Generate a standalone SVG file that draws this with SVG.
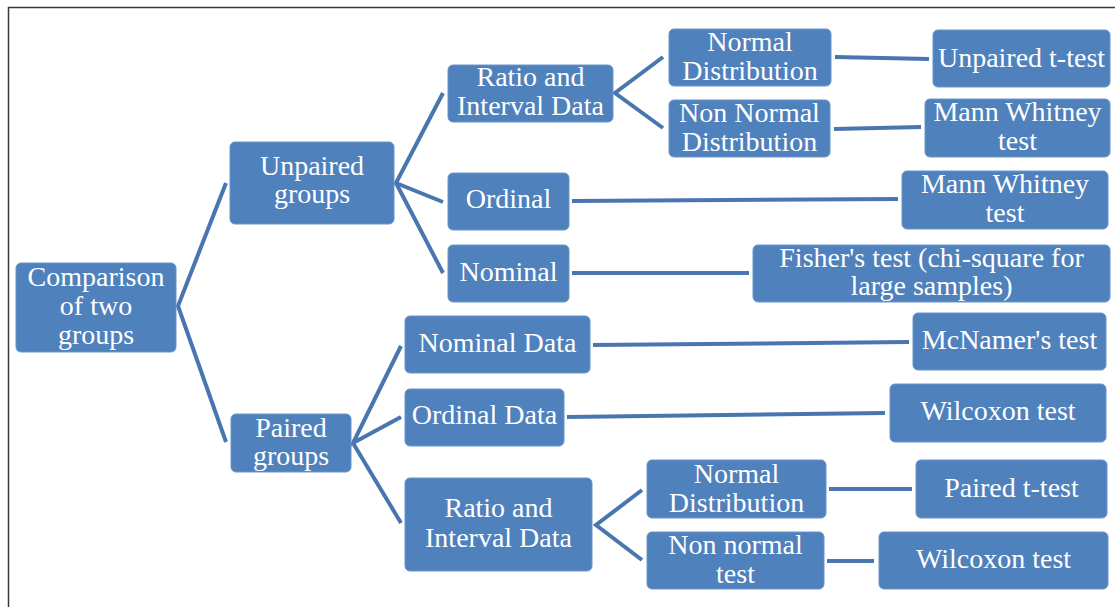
<svg xmlns="http://www.w3.org/2000/svg" width="1115" height="607" viewBox="0 0 1115 607">
  <style>
    .box { fill: #4f81bd; stroke: #6a95c9; stroke-width: 1; }
    .lbl { font-family: 'Liberation Serif', 'DejaVu Serif', serif; font-size: 28px; fill: #ffffff; text-anchor: middle; }
    .link { stroke: #4a76b0; stroke-width: 4; fill: none; stroke-linejoin: miter; }
    .frame { stroke: #3a3a3a; stroke-width: 1.5; fill: none; }
  </style>

  <rect width="1115" height="607" fill="#ffffff"/>
  <!-- page frame (left and top rules) -->
  <path class="frame" d="M8.5,607 V7.5 H1115"/>

  <!-- connectors -->
  <g id="connectors">
    <polyline class="link" points="226,183 178,306 226,442"/>
    <polyline class="link" points="443,93 396,183 443,202"/>
    <polyline class="link" points="396,183 443,273"/>
    <polyline class="link" points="663,57 615,93 663,128"/>
    <line class="link" x1="835" y1="57" x2="929" y2="59"/>
    <line class="link" x1="834" y1="129" x2="921" y2="127"/>
    <line class="link" x1="572" y1="201" x2="898" y2="199"/>
    <line class="link" x1="572" y1="273" x2="749" y2="273"/>
    <polyline class="link" points="401,346 353,443 401,417"/>
    <polyline class="link" points="353,443 401,523"/>
    <line class="link" x1="593" y1="345" x2="909" y2="342"/>
    <line class="link" x1="567" y1="417" x2="885" y2="413"/>
    <polyline class="link" points="642,490 596,525 642,560"/>
    <line class="link" x1="829" y1="489" x2="912" y2="489"/>
    <line class="link" x1="827" y1="561" x2="874" y2="561"/>
  </g>

  <g id="comparison">
    <rect class="box" x="16" y="263" width="160" height="89" rx="5"/>
    <text class="lbl" font-family="Liberation Serif, DejaVu Serif, serif" x="96" y="286">Comparison</text>
    <text class="lbl" font-family="Liberation Serif, DejaVu Serif, serif" x="96" y="315">of two</text>
    <text class="lbl" font-family="Liberation Serif, DejaVu Serif, serif" x="96" y="344">groups</text>
  </g>

  <g id="unpaired">
    <rect class="box" x="230" y="142" width="164" height="82" rx="5"/>
    <text class="lbl" x="312" y="175">Unpaired</text>
    <text class="lbl" x="312" y="203">groups</text>
  </g>

  <g id="paired">
    <rect class="box" x="231" y="414" width="120" height="58" rx="5"/>
    <text class="lbl" x="291" y="437">Paired</text>
    <text class="lbl" x="291" y="465">groups</text>
  </g>

  <g id="unpaired-ratio">
    <rect class="box" x="448" y="65" width="165" height="57" rx="5"/>
    <text class="lbl" x="530.5" y="86">Ratio and</text>
    <text class="lbl" x="530.5" y="115">Interval Data</text>
  </g>

  <g id="unpaired-normal">
    <rect class="box" x="669" y="29" width="162" height="57" rx="5"/>
    <text class="lbl" x="750" y="51">Normal</text>
    <text class="lbl" x="750" y="80">Distribution</text>
  </g>

  <g id="unpaired-nonnormal">
    <rect class="box" x="669" y="100" width="161" height="57" rx="5"/>
    <text class="lbl" x="749.5" y="122">Non Normal</text>
    <text class="lbl" x="749.5" y="151">Distribution</text>
  </g>

  <g id="unpaired-ttest">
    <rect class="box" x="933" y="30" width="177" height="57" rx="5"/>
    <text class="lbl" x="1021.5" y="67">Unpaired t-test</text>
  </g>

  <g id="mann-whitney-1">
    <rect class="box" x="925" y="99" width="185" height="58" rx="5"/>
    <text class="lbl" x="1017.5" y="121">Mann Whitney</text>
    <text class="lbl" x="1017.5" y="150">test</text>
  </g>

  <g id="unpaired-ordinal">
    <rect class="box" x="448" y="173" width="121" height="57" rx="5"/>
    <text class="lbl" x="508.5" y="208">Ordinal</text>
  </g>

  <g id="mann-whitney-2">
    <rect class="box" x="902" y="171" width="206" height="58" rx="5"/>
    <text class="lbl" x="1005" y="193">Mann Whitney</text>
    <text class="lbl" x="1005" y="222">test</text>
  </g>

  <g id="unpaired-nominal">
    <rect class="box" x="448" y="245" width="121" height="57" rx="5"/>
    <text class="lbl" x="508.5" y="281">Nominal</text>
  </g>

  <g id="fisher">
    <rect class="box" x="753" y="245" width="357" height="57" rx="5"/>
    <text class="lbl" x="931.5" y="267">Fisher's test (chi-square for</text>
    <text class="lbl" x="931.5" y="295">large samples)</text>
  </g>

  <g id="paired-nominal">
    <rect class="box" x="405" y="316" width="185" height="57" rx="5"/>
    <text class="lbl" x="497.5" y="352">Nominal Data</text>
  </g>

  <g id="mcnamer">
    <rect class="box" x="913" y="313" width="193" height="57" rx="5"/>
    <text class="lbl" x="1009.5" y="349">McNamer's test</text>
  </g>

  <g id="paired-ordinal">
    <rect class="box" x="405" y="389" width="159" height="57" rx="5"/>
    <text class="lbl" x="484.5" y="424">Ordinal Data</text>
  </g>

  <g id="wilcoxon-1">
    <rect class="box" x="890" y="384" width="216" height="58" rx="5"/>
    <text class="lbl" x="998" y="420">Wilcoxon test</text>
  </g>

  <g id="paired-ratio">
    <rect class="box" x="405" y="478" width="187" height="93" rx="5"/>
    <text class="lbl" x="498.5" y="517">Ratio and</text>
    <text class="lbl" x="498.5" y="547">Interval Data</text>
  </g>

  <g id="paired-normal">
    <rect class="box" x="647" y="460" width="179" height="58" rx="5"/>
    <text class="lbl" x="736.5" y="483">Normal</text>
    <text class="lbl" x="736.5" y="512">Distribution</text>
  </g>

  <g id="paired-nonnormal">
    <rect class="box" x="647" y="532" width="177" height="57" rx="5"/>
    <text class="lbl" x="735.5" y="554">Non normal</text>
    <text class="lbl" x="735.5" y="583">test</text>
  </g>

  <g id="paired-ttest">
    <rect class="box" x="916" y="460" width="191" height="58" rx="5"/>
    <text class="lbl" x="1011.5" y="497">Paired t-test</text>
  </g>

  <g id="wilcoxon-2">
    <rect class="box" x="879" y="532" width="229" height="57" rx="5"/>
    <text class="lbl" x="993.5" y="568">Wilcoxon test</text>
  </g>
</svg>
